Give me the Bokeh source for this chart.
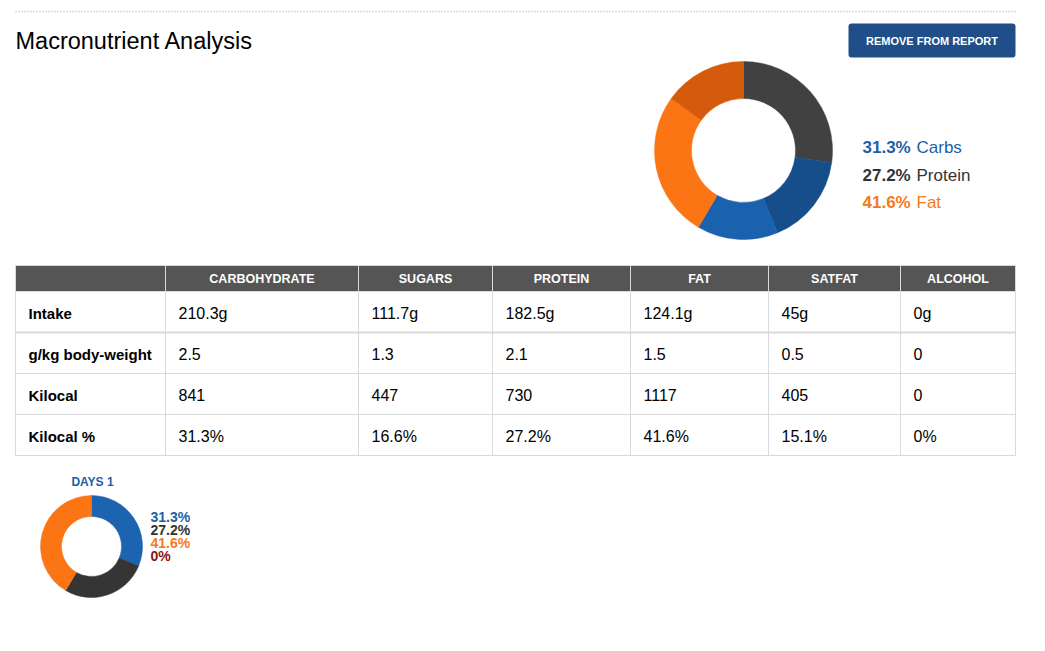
import math
from bokeh.plotting import figure
from bokeh.models import Range1d, BoxAnnotation
from bokeh.core.properties import value
from bokeh.embed import file_html
from bokeh.resources import INLINE

# ---------------- data ----------------
columns = ["CARBOHYDRATE", "SUGARS", "PROTEIN", "FAT", "SATFAT", "ALCOHOL"]
row_labels = ["Intake", "g/kg body-weight", "Kilocal", "Kilocal %"]
intake_g = [210.3, 111.7, 182.5, 124.1, 45, 0]
g_per_kg = [2.5, 1.3, 2.1, 1.5, 0.5, 0]
kilocal = [841, 447, 730, 1117, 405, 0]
kilocal_pct = [31.3, 16.6, 27.2, 41.6, 15.1, 0]

macro_names = ["Carbs", "Protein", "Fat"]
macro_pct = [31.3, 27.2, 41.6]
alcohol_pct = [0]
day_label = "DAYS 1"

# ---------------- layout ----------------
FONT = value("Liberation Sans")
W, H = 1029, 635


def Y(py):
    return H - py


p = figure(width=W, height=H, x_range=Range1d(0, W), y_range=Range1d(0, H),
           output_backend="svg", toolbar_location=None, x_axis_type=None, y_axis_type=None,
           min_border=0)
p.grid.visible = False
p.outline_line_color = None
p.background_fill_color = "white"
p.border_fill_color = "white"

# top dotted rule
p.line(x=[15, 1015], y=[Y(11), Y(11)], line_color="#b5b5b5", line_width=1.3, line_dash="1 2")

# title
p.text(x=[15], y=[Y(40)], text=["Macronutrient Analysis"], text_font=FONT, text_font_size="23.5px",
       text_baseline="middle", text_align="left", text_color="#000000")

# button
p.add_layout(BoxAnnotation(left=848, right=1015, top=Y(23), bottom=Y(57), fill_color="#1f4e89",
                           fill_alpha=1.0, line_color=None, border_radius=3, level="underlay"))
p.text(x=[(848 + 1015) / 2], y=[Y(40.5)], text=["REMOVE FROM REPORT"], text_font=FONT, text_font_size="11px",
       text_font_style="bold", text_baseline="middle", text_align="center", text_color="white")


def donut(cx, cy, r_in, r_out, vals, colors):
    total = sum(vals)
    starts, ends = [], []
    acc = 0.0
    for v in vals:
        starts.append(math.pi / 2 - 2 * math.pi * acc / total)
        acc += v
        ends.append(math.pi / 2 - 2 * math.pi * acc / total)
    p.annular_wedge(x=[cx] * len(vals), y=[Y(cy)] * len(vals), inner_radius=r_in, outer_radius=r_out,
                    start_angle=starts, end_angle=ends, direction="clock",
                    fill_color=colors, line_color=colors, line_width=0.5)


# big donut: protein, sugars, other carbs, other fat, satfat
carb, prot, fat = macro_pct
sugars = kilocal_pct[1]
satfat = kilocal_pct[4]
big_vals = [prot, sugars, carb - sugars, fat - satfat, satfat]
big_cols = ["#414141", "#154e8b", "#1a62ae", "#fb7514", "#d65a0b"]
donut(743, 150, 52, 89, big_vals, big_cols)

# big legend
leg_cols = ["#1b5fab", "#333333", "#f47a20"]
leg_y = [147, 174.5, 202]
p.text(x=[862] * 3, y=[Y(v) for v in leg_y], text=[f"{v:g}%" for v in macro_pct], text_font=FONT,
       text_font_size="17px", text_font_style="bold", text_baseline="middle", text_align="left",
       text_color=leg_cols)
p.text(x=[916] * 3, y=[Y(v) for v in leg_y], text=macro_names, text_font=FONT,
       text_font_size="17px", text_baseline="middle", text_align="left", text_color=leg_cols)

# ---------------- table ----------------
col_edges = [15, 165, 358, 492, 630, 768, 900, 1015]
head_top, head_bot = 265, 291
row_h = 41
row_tops = [head_bot + i * row_h for i in range(len(row_labels))]
table_bot = row_tops[-1] + row_h

p.quad(left=[col_edges[0]], right=[col_edges[-1]], top=[Y(head_top)], bottom=[Y(head_bot)],
       fill_color="#555555", line_color=None)

grid_col = "#d9d9d9"
# vertical lines
p.segment(x0=col_edges, y0=[Y(head_top)] * len(col_edges), x1=col_edges, y1=[Y(table_bot)] * len(col_edges),
          line_color=grid_col, line_width=1)
# horizontal lines
hl = [head_top, head_bot] + [t + row_h for t in row_tops]
hw = [1, 1, 2.2, 1, 1, 1]
p.segment(x0=[col_edges[0]] * len(hl), y0=[Y(v) for v in hl], x1=[col_edges[-1]] * len(hl),
          y1=[Y(v) for v in hl], line_color=grid_col, line_width=hw)

# header texts
p.text(x=[(col_edges[i + 1] + col_edges[i + 2]) / 2 for i in range(len(columns))],
       y=[Y((head_top + head_bot) / 2 + 0.5)] * len(columns), text=columns, text_font=FONT,
       text_font_size="12.5px", text_font_style="bold", text_baseline="middle", text_align="center",
       text_color="white")

# row labels
p.text(x=[col_edges[0] + 13] * len(row_labels), y=[Y(t + 21.5) for t in row_tops], text=row_labels,
       text_font=FONT, text_font_size="15px", text_font_style="bold", text_baseline="middle",
       text_align="left", text_color="#000000")

rows_txt = [
    [f"{v:g}g" for v in intake_g],
    [f"{v:g}" for v in g_per_kg],
    [f"{v:g}" for v in kilocal],
    [f"{v:g}%" for v in kilocal_pct],
]
xs, ys, ts = [], [], []
for r, vals in enumerate(rows_txt):
    for c, t in enumerate(vals):
        xs.append(col_edges[c + 1] + 13)
        ys.append(Y(row_tops[r] + 21.5))
        ts.append(t)
p.text(x=xs, y=ys, text=ts, text_font=FONT, text_font_size="16px", text_baseline="middle",
       text_align="left", text_color="#000000")

# ---------------- small donut ----------------
p.text(x=[92], y=[Y(481)], text=[day_label], text_font=FONT, text_font_size="12px", text_font_style="bold",
       text_baseline="middle", text_align="center", text_color="#1c5fa8")
donut(91, 546, 30, 51, macro_pct, ["#1c63b0", "#353535", "#fb7514"])
small_vals = macro_pct + alcohol_pct
small_cols = ["#1c5fa8", "#333333", "#f47a20", "#8b1414"]
p.text(x=[150] * 4, y=[Y(516 + 13 * i) for i in range(4)], text=[f"{v:g}%" for v in small_vals],
       text_font=FONT, text_font_size="14px", text_font_style="bold", text_baseline="middle",
       text_align="left", text_color=small_cols, text_line_height=1.0)

open("out.html", "w").write(file_html(p, INLINE))
